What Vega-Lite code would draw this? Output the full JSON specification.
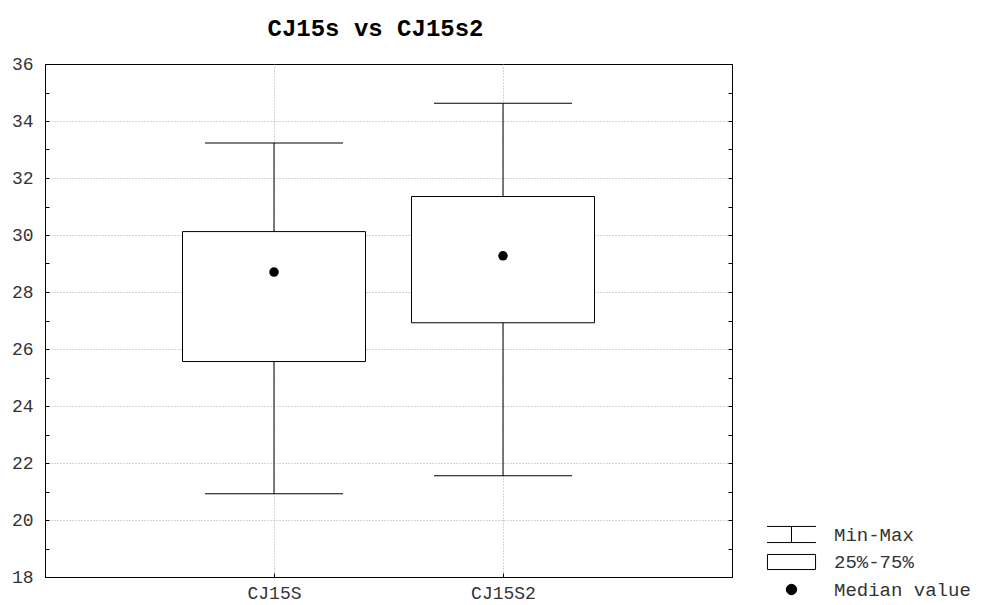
{
  "$schema": "https://vega.github.io/schema/vega-lite/v6.json",
  "autosize": {"type": "none"},
  "padding": {"left": 45, "top": 64, "right": 250, "bottom": 28},
  "width": 687,
  "height": 513,
  "background": "white",
  "title": {
    "text": "CJ15s vs CJ15s2",
    "font": "Liberation Mono",
    "fontSize": 24,
    "fontWeight": "bold",
    "color": "black",
    "anchor": "middle",
    "dx": -13,
    "offset": 14
  },
  "datasets": {
    "stats": [
      {"group": "CJ15S", "min": 20.92, "q1": 25.56, "median": 28.70, "q3": 30.12, "max": 33.23},
      {"group": "CJ15S2", "min": 21.55, "q1": 26.92, "median": 29.27, "q3": 31.35, "max": 34.62}
    ],
    "key": [
      {"item": "Min-Max"},
      {"item": "25%-75%"},
      {"item": "Median value"}
    ]
  },
  "data": {"name": "stats"},
  "resolve": {"axis": {"y": "independent"}},
  "layer": [
    {
      "mark": {"type": "rule", "color": "black", "strokeWidth": 1},
      "encoding": {
        "x": {
          "field": "group",
          "type": "nominal",
          "scale": {"type": "point", "padding": 1, "domain": ["CJ15S", "CJ15S2"]},
          "axis": {
            "title": null,
            "labelAngle": 0,
            "labelFont": "Liberation Mono",
            "labelFontSize": 18,
            "labelColor": "#333333",
            "labelPadding": 11,
            "tickSize": -4,
            "tickColor": "black",
            "domainColor": "black",
            "grid": true,
            "gridColor": "#a8a8a8",
            "gridDash": [1, 2]
          }
        },
        "y": {
          "field": "min",
          "type": "quantitative",
          "scale": {"domain": [18, 36], "nice": false, "zero": false},
          "axis": {
            "orient": "left",
            "title": null,
            "values": [18, 19, 20, 21, 22, 23, 24, 25, 26, 27, 28, 29, 30, 31, 32, 33, 34, 35, 36],
            "labelExpr": "datum.value % 2 === 0 ? datum.label : ''",
            "labelFont": "Liberation Mono",
            "labelFontSize": 18,
            "labelColor": "#333333",
            "labelPadding": 16,
            "tickSize": -4,
            "tickColor": "black",
            "domainColor": "black",
            "grid": true,
            "gridColor": "#a8a8a8",
            "gridDash": [1, 2],
            "gridOpacity": {"condition": {"test": "datum.value % 2 === 0 && datum.value > 18 && datum.value < 36", "value": 1}, "value": 0}
          }
        },
        "y2": {"field": "max"}
      }
    },
    {
      "mark": {"type": "tick", "color": "black", "size": 138, "thickness": 1, "opacity": 1},
      "encoding": {
        "x": {"field": "group", "type": "nominal"},
        "y": {"field": "min", "type": "quantitative", "axis": null}
      }
    },
    {
      "mark": {"type": "tick", "color": "black", "size": 138, "thickness": 1, "opacity": 1},
      "encoding": {
        "x": {"field": "group", "type": "nominal"},
        "y": {"field": "max", "type": "quantitative", "axis": null}
      }
    },
    {
      "mark": {"type": "bar", "size": 183, "fill": "white", "stroke": "black", "strokeWidth": 1},
      "encoding": {
        "x": {"field": "group", "type": "nominal"},
        "y": {
          "field": "q1",
          "type": "quantitative",
          "axis": {
            "orient": "right",
            "title": null,
            "labels": false,
            "grid": false,
            "values": [18, 19, 20, 21, 22, 23, 24, 25, 26, 27, 28, 29, 30, 31, 32, 33, 34, 35, 36],
            "tickSize": -4,
            "tickColor": "black",
            "domainColor": "black"
          }
        },
        "y2": {"field": "q3"}
      }
    },
    {
      "mark": {"type": "point", "filled": true, "color": "black", "size": 90, "opacity": 1},
      "encoding": {
        "x": {"field": "group", "type": "nominal"},
        "y": {"field": "median", "type": "quantitative", "axis": null}
      }
    },
    {
      "data": {"name": "key"},
      "mark": {"type": "point", "filled": true, "opacity": 0},
      "encoding": {
        "shape": {
          "field": "item",
          "type": "nominal",
          "sort": null,
          "scale": {
            "domain": ["Min-Max", "25%-75%", "Median value"],
            "range": [
              "M-1.88,-0.62H1.88M-1.88,0.62H1.88M0,-0.62V0.62",
              "M-1.85,-0.58H1.85V0.58H-1.85Z",
              "M-0.4,0A0.4,0.4,0,1,0,0.4,0A0.4,0.4,0,1,0,-0.4,0Z"
            ]
          },
          "legend": {
            "title": null,
            "orient": "none",
            "legendX": 733,
            "legendY": 457,
            "padding": 0,
            "symbolSize": 676,
            "rowPadding": 3.5,
            "labelOffset": 29,
            "labelFont": "Liberation Mono",
            "labelFontSize": 19,
            "labelColor": "#333333",
            "encode": {
              "symbols": {
                "update": {
                  "opacity": {"value": 1},
                  "stroke": {"value": "black"},
                  "strokeWidth": {"value": 1}
                }
              }
            }
          }
        },
        "fill": {
          "field": "item",
          "type": "nominal",
          "sort": null,
          "scale": {
            "domain": ["Min-Max", "25%-75%", "Median value"],
            "range": ["white", "white", "black"]
          },
          "legend": {
            "title": null,
            "orient": "none",
            "legendX": 733,
            "legendY": 457,
            "padding": 0,
            "symbolSize": 676,
            "rowPadding": 3.5,
            "labelOffset": 29,
            "labelFont": "Liberation Mono",
            "labelFontSize": 19,
            "labelColor": "#333333",
            "encode": {
              "symbols": {
                "update": {
                  "opacity": {"value": 1},
                  "stroke": {"value": "black"},
                  "strokeWidth": {"value": 1}
                }
              }
            }
          }
        }
      }
    }
  ],
  "config": {
    "view": {"stroke": "black", "strokeWidth": 1},
    "font": "Liberation Mono"
  }
}
